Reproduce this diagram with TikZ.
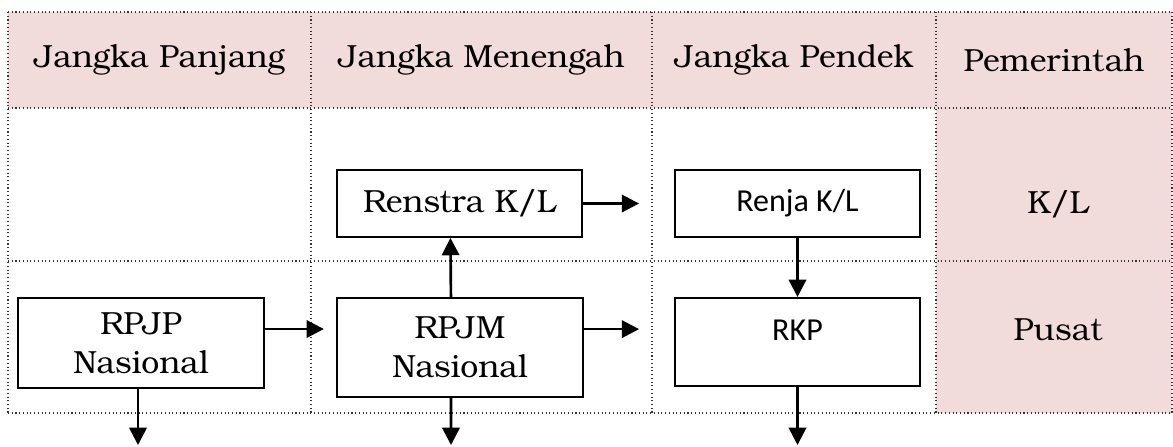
\documentclass[tikz,border=0pt]{standalone}
\usepackage{fontspec}
\setmainfont{TeX Gyre Bonum}
\newfontfamily\kalibri{Carlito}
\usepackage{tikz}
\usetikzlibrary{arrows.meta}
\definecolor{merahmuda}{RGB}{242,220,219}
\tikzstyle{garis}=[line width=0.4pt,densely dotted,black!80]
\tikzstyle{judul}=[inner sep=0pt,font=\fontsize{12}{15}\selectfont]
\tikzstyle{kotak}=[draw,line width=0.8pt,inner sep=0pt,align=center,font=\fontsize{12}{14.6}\selectfont]
\tikzstyle{panah}=[line width=1pt,-{Triangle[length=6.5pt,width=6.5pt]}]

\begin{document}
\begin{tikzpicture}[x=0.375pt,y=-0.375pt]
    \useasboundingbox (0,0) rectangle (1173,446);
    \fill [merahmuda] (8,12) rectangle (1172,108);
    \fill [merahmuda] (936,108) rectangle (1172,413);
    \draw [garis] (8,12) -- (1172,12);
    \draw [garis] (8,108) -- (1172,108);
    \draw [garis] (8,261) -- (1172,261);
    \draw [garis] (8,413) -- (1172,413);
    \draw [garis] (8,12) -- (8,413);
    \draw [garis] (311,12) -- (311,413);
    \draw [garis] (652,12) -- (652,413);
    \draw [garis] (936,12) -- (936,413);
    \draw [garis] (1172,12) -- (1172,413);
    \node [judul] (h1) at (159.5,60) {Jangka Panjang};
    \node [judul] (h2) at (481.5,60) {Jangka Menengah};
    \node [judul] (h3) at (794,60) {Jangka Pendek};
    \node [judul] (h4) at (1054,60) {Pemerintah};
    \node [judul] (kl) at (1058,204) {K/L};
    \node [judul] (pusat) at (1058,330) {Pusat};
    \node [kotak,minimum width=92pt,minimum height=25pt] (renstra) at (459.5,203.5) {Renstra K/L};
    \node [kotak,minimum width=92pt,minimum height=25pt,font=\kalibri\fontsize{12}{14}\selectfont] (renja) at (797.5,203.5) {Renja K/L};
    \node [kotak,minimum width=92.3pt,minimum height=33.8pt] (rpjp) at (141,343) {RPJP\\Nasional};
    \node [kotak,minimum width=92.3pt,minimum height=37.1pt] (rpjm) at (460,347.5) {RPJM\\Nasional};
    \node [kotak,minimum width=92pt,minimum height=33pt,text depth=9pt,font=\kalibri\fontsize{12}{14}\selectfont] (rkp) at (797.5,342) {RKP};
    \coordinate (b1) at (138,445);
    \coordinate (b2) at (451,445);
    \coordinate (b3) at (797.5,445);
    \draw [panah,shorten >=4.5pt] ([yshift=5.25pt]rpjp.east) -- ([yshift=5.25pt]rpjp.east -| rpjm.west);
    \draw [panah,shorten >=13pt] ([yshift=6.9pt]rpjm.east) -- ([yshift=6.9pt]rpjm.east -| rkp.west);
    \draw [panah,shorten >=13pt] (renstra.east) -- (renja.west);
    \draw [panah] ([xshift=-3.4pt]rpjm.north) -- ([xshift=-3.4pt]renstra.south);
    \draw [panah] (renja.south) -- (rkp.north);
    \draw [panah] (rpjp.south -| b1) -- (b1);
    \draw [panah] ([xshift=-3.4pt]rpjm.south) -- (b2);
    \draw [panah] (rkp.south) -- (b3);
\end{tikzpicture}
\end{document}
